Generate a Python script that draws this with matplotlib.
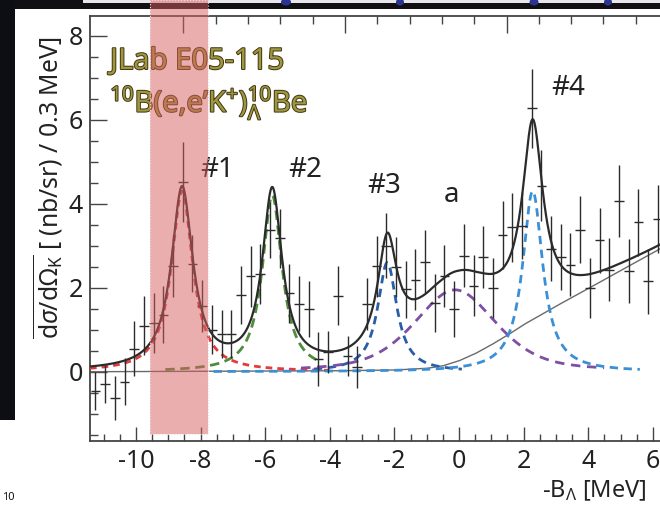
import numpy as np
import matplotlib
matplotlib.use("Agg")
import matplotlib.pyplot as plt
from matplotlib.patches import Rectangle, Ellipse
from matplotlib.ticker import MultipleLocator
from matplotlib import patheffects

plt.rcParams['font.family'] = ['Noto Sans', 'DejaVu Sans']
plt.rcParams['mathtext.fontset'] = 'custom'
plt.rcParams['mathtext.rm'] = 'Noto Sans'
plt.rcParams['mathtext.it'] = 'Noto Sans:italic'
plt.rcParams['mathtext.bf'] = 'Noto Sans:bold'
plt.rcParams['axes.unicode_minus'] = False

W, H = 660, 505

# binned spectrum (0.3 MeV bins)
bin_centers = [-11.25, -10.95, -10.65, -10.35, -10.05, -9.75, -9.45, -9.15, -8.85, -8.55,
               -8.25, -7.95, -7.65, -7.35, -7.05, -6.75, -6.45, -6.15, -5.85, -5.55,
               -5.25, -4.95, -4.65, -4.35, -4.05, -3.75, -3.45, -3.15, -2.85, -2.55,
               -2.25, -1.95, -1.65, -1.35, -1.05, -0.75, -0.45, -0.15, 0.15, 0.45,
               0.75, 1.05, 1.35, 1.65, 1.95, 2.25, 2.55, 2.85, 3.15, 3.45,
               3.75, 4.05, 4.35, 4.65, 4.95, 5.25, 5.55, 5.85, 6.15]
xsec = [-0.45, -0.30, -0.62, -0.24, 0.55, 1.10, 1.16, 1.36, 2.51, 4.52,
        2.57, 1.56, 1.00, 0.90, 0.90, 1.83, 2.27, 2.33, 3.38, 3.18,
        1.87, 1.62, 1.49, 0.30, 0.48, 1.81, 0.38, 0.11, 1.62, 2.51,
        3.00, 2.50, 1.96, 2.19, 2.62, 1.64, 2.28, 1.49, 2.76, 2.05,
        2.73, 1.99, 3.25, 3.44, 3.48, 6.27, 4.43, 2.93, 2.73, 2.55,
        3.38, 2.00, 3.13, 2.43, 4.07, 2.40, 3.56, 2.15, 3.63]
xsec_err = [0.45, 0.45, 0.52, 0.56, 0.66, 0.70, 0.71, 0.68, 0.74, 0.95,
            0.68, 0.62, 0.58, 0.58, 0.58, 0.70, 0.72, 0.72, 0.66, 0.70,
            0.70, 0.66, 0.66, 0.64, 0.50, 0.70, 0.48, 0.50, 0.62, 0.72,
            0.77, 0.72, 0.68, 0.73, 0.75, 0.69, 0.73, 0.67, 0.75, 0.73,
            0.73, 0.71, 0.81, 0.82, 0.80, 0.94, 0.85, 0.77, 0.78, 0.75,
            0.80, 0.71, 0.77, 0.75, 0.85, 0.77, 0.80, 0.77, 0.81]
half_bin = 0.15

# fitted peaks: #1, #2, #3, a, #4
peak_centers = [-8.57, -5.78, -2.22, -0.12, 2.28]
peak_heights = [4.30, 4.20, 2.60, 1.95, 4.30]
peak_fwhm = [0.80, 0.74, 0.72, 3.00, 0.76]
peak_lorentz_frac = [1.0, 1.0, 1.0, 0.5, 1.0]
peak_draw_from = [-11.42, -9.10, -4.50, -4.90, -7.60]
peak_draw_to = [-4.00, -4.40, 0.10, 4.50, 5.60]
peak_colors = ['#e23b3b', '#4f8c3e', '#2a5ea8', '#7d4fa5', '#3c8fd6']
peak_dashes = [(2.4, 1.8), (3.4, 2.0), (3.0, 2.0), (3.4, 2.4), (3.0, 2.0)]

# accidental / quasi-free background
bg_x = [-11.42, -4.0, -2.0, -1.0, -0.5, 0.0, 0.5, 1.0, 1.5, 2.0, 3.0, 4.0, 5.0, 6.0, 6.25]
bg_y = [0.00, 0.02, 0.04, 0.08, 0.14, 0.26, 0.43, 0.64, 0.87, 1.12, 1.56, 1.98, 2.41, 2.83, 2.94]

labels = ['#1', '#2', '#3', 'a', '#4']
label_x = [-7.49, -4.77, -2.32, -0.22, 3.37]
label_y = [4.81, 4.81, 4.43, 4.05, 6.76]


def peak_shape(x, c, h, fwhm, eta):
    lor = 1.0 / (1.0 + (2.0 * (x - c) / fwhm) ** 2)
    gau = np.exp(-4.0 * np.log(2.0) * ((x - c) / fwhm) ** 2)
    return h * (eta * lor + (1.0 - eta) * gau)


fig = plt.figure(figsize=(W / 100, H / 100), dpi=100)
ax = fig.add_axes([90 / W, 1 - 441 / H, (W - 90) / W, (441 - 15.7) / H])
xlim = (-11.42, 6.22)
ax.set_xlim(*xlim)
ax.set_ylim(-1.65, 8.48)

xs = np.linspace(xlim[0], xlim[1], 1500)
bg = np.interp(xs, bg_x, bg_y)
total = bg.copy()
for c, h, f, e, lo, hi, col, dsh in zip(peak_centers, peak_heights, peak_fwhm, peak_lorentz_frac,
                                        peak_draw_from, peak_draw_to, peak_colors, peak_dashes):
    comp = peak_shape(xs, c, h, f, e)
    total += comp
    sel = (xs >= lo) & (xs <= hi)
    ax.plot(xs[sel], comp[sel], color=col, lw=2.0, ls=(0, dsh), zorder=3)

ax.plot(xs, bg, color='#6a6a6a', lw=1.0, zorder=2)
ax.plot(xs, total, color='#2b2b2b', lw=1.6, zorder=4)
ax.errorbar(bin_centers, xsec, yerr=xsec_err, xerr=half_bin, fmt='none',
            ecolor='#2b2b2b', elinewidth=1.0, capsize=0, zorder=5)

for lab, lx, ly in zip(labels, label_x, label_y):
    va = 'baseline' if lab == 'a' else 'center'
    ax.text(lx, ly, lab, ha='center', va=va, fontsize=20, color='#222222', zorder=6)

stroke = [patheffects.withStroke(linewidth=1.4, foreground='#3f3712')]
ax.text(-10.8, 7.21, 'JLab E05-115', ha='left', va='baseline', fontsize=21,
        color='#a0963f', path_effects=stroke, zorder=6)
ax.text(-10.8, 6.19, r'$^{10}$B(e,e’K$^{+}$)$^{10}_{\Lambda}$Be', ha='left', va='baseline',
        fontsize=21, color='#a0963f', path_effects=stroke, zorder=6)

# axes styling
for side in ['left', 'bottom', 'top']:
    ax.spines[side].set_color('#444444')
    ax.spines[side].set_linewidth(1.3)
ax.spines['right'].set_visible(False)
ax.set_xticks([-10, -8, -6, -4, -2, 0, 2, 4, 6])
ax.set_yticks([0, 2, 4, 6, 8])
ax.xaxis.set_minor_locator(MultipleLocator(0.5))
ax.yaxis.set_minor_locator(MultipleLocator(0.5))
ax.tick_params(which='both', direction='in', color='#444444', width=1.0,
               top=False, right=False, labelsize=18, labelcolor='#222222')
ax.tick_params(axis='x', which='major', length=10, pad=6)
ax.tick_params(axis='x', which='minor', length=5)
ax.tick_params(axis='y', which='major', length=12, pad=5)
ax.tick_params(axis='y', which='minor', length=6)

# top scale, shifted ticks
top = ax.twiny()
top.set_xlim(*xlim)
top.set_xticks([-8.53, -3.53, 1.47])
top.set_xticks([-8.53 + k for k in range(15)], minor=True)
top.tick_params(which='both', direction='in', color='#444444', width=1.0,
                labeltop=False, bottom=False, labelbottom=False)
top.tick_params(which='major', length=12)
top.tick_params(which='minor', length=6)
for s in top.spines.values():
    s.set_visible(False)

fig.text(48 / W, 1 - 188 / H,
         r'$\overline{\mathrm{d}\sigma/\mathrm{d}\Omega_{\mathrm{K}}}$ [ (nb/sr) / 0.3 MeV]',
         rotation=90, ha='center', va='center', fontsize=17.8, color='#222222')
fig.text(647 / W, 1 - 497 / H, r'-B$_{\Lambda}$ [MeV]', ha='right', va='baseline',
         fontsize=17, color='#222222')

# surrounding slide background
fig.add_artist(Rectangle((0, 1 - 9 / H), 1, 9 / H, transform=fig.transFigure,
                         facecolor='#101013', edgecolor='none', zorder=1))
fig.add_artist(Rectangle((83 / W, 1 - 3 / H), 1, 3 / H, transform=fig.transFigure,
                         facecolor='#e6e6ec', edgecolor='none', zorder=1))
fig.add_artist(Rectangle((0, 1 - 420 / H), 15 / W, 420 / H, transform=fig.transFigure,
                         facecolor='#0c0e13', edgecolor='none', zorder=1))
for bx, bw in [(286, 10), (400, 8), (534, 9), (608, 8)]:
    fig.add_artist(Ellipse((bx / W, 1 - 2 / H), bw / W, 7 / H, transform=fig.transFigure,
                           facecolor='#2b3490', edgecolor='none', zorder=1.5))
fig.text(2 / W, 1 - 492 / H, '10', ha='left', va='top', fontsize=8, weight='bold', color='#111111')

# highlighted region
band = Rectangle((150 / W, 1 - 434 / H), 57.7 / W, 434 / H, transform=fig.transFigure,
                 facecolor='#d75f5f', alpha=0.5, edgecolor='none', zorder=20)
fig.add_artist(band)
fig.add_artist(Rectangle((150 / W, 1 - 434 / H), 57.7 / W, 434 / H, transform=fig.transFigure,
                         fill=False, edgecolor='#f5dada', lw=0.8, ls=':', zorder=21))

fig.savefig('out.png', dpi=100)
